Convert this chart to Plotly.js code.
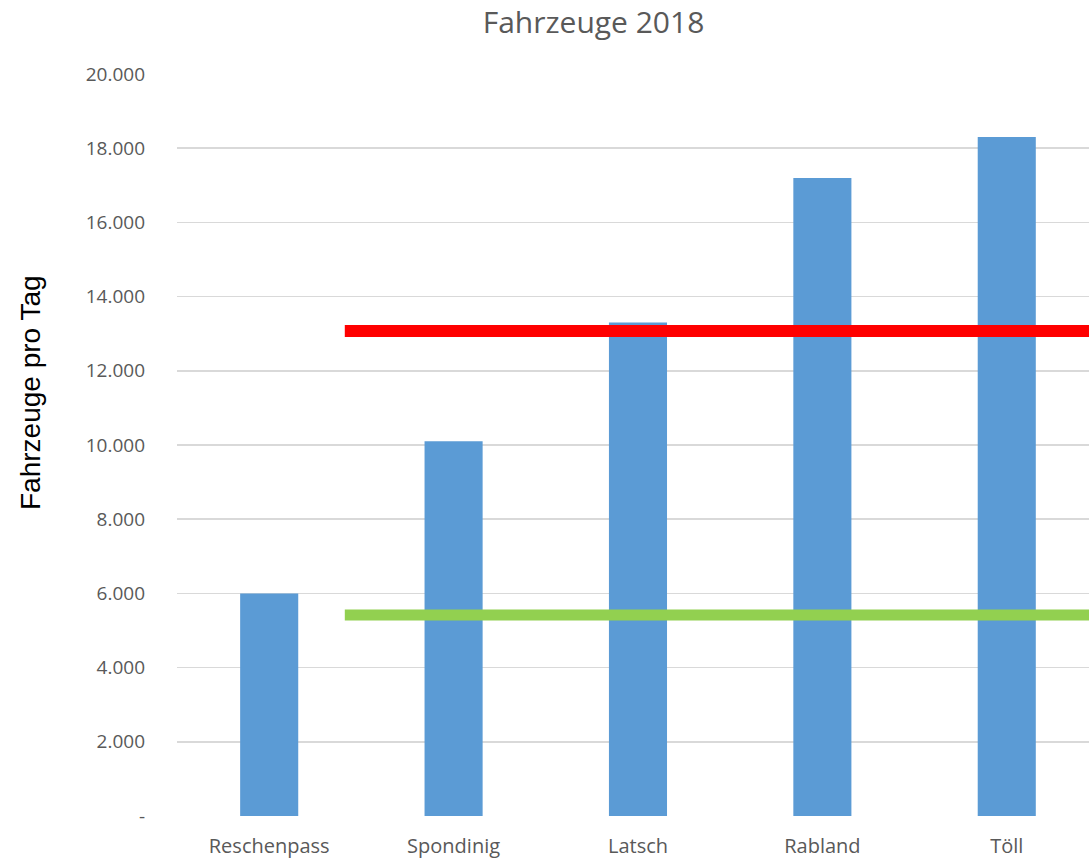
<!DOCTYPE html>
<html>
<head>
<meta charset="utf-8">
<script src="https://cdn.plot.ly/plotly-3.0.1.min.js"></script>
<style>html,body{margin:0;padding:0;background:#fff}#chart{width:1089px;height:858px}</style>
</head>
<body>
<div id="chart"></div>
<script>
const categories = ["Reschenpass", "Spondinig", "Latsch", "Rabland", "Töll"];
const vehicles = [6000, 10100, 13300, 17200, 18300];
const redLineX = [0.41, 4.5];
const redLineY = [13070, 13070];
const greenLineX = [0.41, 4.5];
const greenLineY = [5420, 5420];
const yTickVals = [0, 2000, 4000, 6000, 8000, 10000, 12000, 14000, 16000, 18000, 20000];
const yTickText = ["-", "2.000", "4.000", "6.000", "8.000", "10.000", "12.000", "14.000", "16.000", "18.000", "20.000"];
const chartTitle = "Fahrzeuge 2018";
const yTitle = "Fahrzeuge pro Tag";

const FONT = "Open Sans, Liberation Sans, sans-serif";
const traces = [
  {type: "bar", x: categories, y: vehicles, marker: {color: "#5B9BD5"}, hoverinfo: "x+y"},
  {type: "scatter", mode: "lines", x: redLineX, y: redLineY, xaxis: "x2", line: {color: "#FF0000", width: 12}},
  {type: "scatter", mode: "lines", x: greenLineX, y: greenLineY, xaxis: "x2", line: {color: "#92D050", width: 11}}
];
const layout = {
  width: 1089, height: 858,
  margin: {l: 177, r: 0, t: 74, b: 42},
  paper_bgcolor: "#fff", plot_bgcolor: "#fff",
  showlegend: false,
  bargap: 0.685,
  font: {family: FONT, color: "#595959", size: 18},
  title: {text: chartTitle, font: {family: FONT, size: 30, color: "#595959"}, x: 0.545, xanchor: "center", y: 0.974, yanchor: "middle"},
  xaxis: {type: "category", range: [-0.5, 4.446], showgrid: false, zeroline: false, showline: false, ticks: "", ticklabelstandoff: 16, tickfont: {family: FONT, size: 20, color: "#595959"}, fixedrange: true},
  xaxis2: {overlaying: "x", type: "linear", range: [-0.5, 4.446], visible: false, fixedrange: true},
  yaxis: {range: [0, 20000], tickvals: yTickVals, ticktext: yTickText, showgrid: true, gridcolor: "#D9D9D9", gridwidth: 1.5, zeroline: false, showline: false, ticks: "", ticklabelstandoff: 31, tickfont: {family: FONT, size: 19, color: "#595959"}, fixedrange: true},
  annotations: [{text: yTitle, textangle: -90, xref: "paper", yref: "paper", x: (30 - 177) / 912, y: (816 - 393) / 742, xanchor: "center", yanchor: "middle", showarrow: false, font: {family: "Liberation Sans, Arial, sans-serif", size: 28, color: "#000"}}]
};
Plotly.newPlot("chart", traces, layout, {displayModeBar: false, staticPlot: true});
</script>
</body>
</html>
